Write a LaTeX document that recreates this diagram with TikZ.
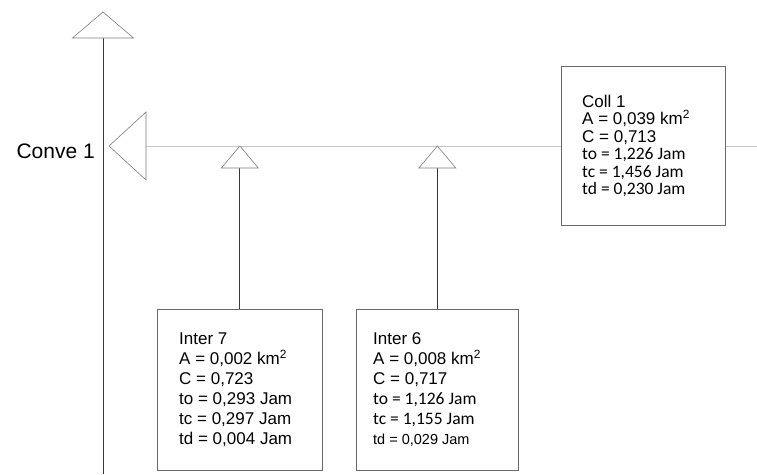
\documentclass[tikz,border=0pt]{standalone}
\usepackage{fontspec}
\setmainfont{Liberation Sans}
\newfontfamily\calfont{Carlito}
\usetikzlibrary{positioning}

\definecolor{linegray}{RGB}{55, 55, 55}
\definecolor{channelgray}{RGB}{200, 200, 200}
\definecolor{boxgray}{RGB}{105, 105, 105}
\definecolor{trigray}{RGB}{125, 125, 125}

\begin{document}
\begin{tikzpicture}[x=1pt, y=-1pt,
  catchbox/.style={draw=boxgray, fill=white, line width=0.7pt, anchor=north west, minimum width=165pt, minimum height=161pt, inner sep=0pt},
  boxtext/.style={anchor=west, align=left, inner sep=0pt, font=\fontsize{17}{20}\selectfont},
  tri/.style={draw=trigray, fill=white, line width=0.6pt},
  link/.style={draw=linegray, line width=0.8pt}
]
  \useasboundingbox (0,0) rectangle (757,474);

  % channel and main drain
  \coordinate (chanstart) at (109,146);
  \coordinate (chanend) at (757,146);
  \coordinate (topbase) at (103,38);
  \coordinate (mainend) at (103,474);
  \draw[draw=channelgray, line width=0.8pt] (chanstart) -- (chanend);
  \draw[link] (topbase) -- (mainend);

  % outlet triangles
  \draw[tri] (topbase) ++(-30.5,0) -- ++(30.5,-26) -- ++(30.5,26) -- cycle;
  \draw[tri] (chanstart) -- ++(37,-34) -- ++(0,68) -- cycle;

  \node[anchor=base east, inner sep=0pt, font=\fontsize{21}{24}\selectfont] (conve) at (95,158) {Conve 1};

  % sub-catchments
  \node[catchbox] (inter7) at (157,309) {};
  \node[boxtext, right=22pt of inter7.west] (inter7txt) {Inter 7\\
    A = 0,002 km\textsuperscript{2}\\
    C = 0,723\\
    to = 0,293 Jam\\
    tc = 0,297 Jam\\
    td = 0,004 Jam};

  \node[catchbox, minimum width=162pt] (inter6) at (356,309) {};
  \node[boxtext, right=17pt of inter6.west] (inter6txt) {Inter 6\\
    A = 0,008 km\textsuperscript{2}\\
    C = 0,717\\
    {\calfont\fontsize{17.5}{20}\selectfont to = 1,126 Jam}\\
    {\calfont\fontsize{17.5}{20}\selectfont tc = 1,155 Jam}\\
    {\fontsize{14.5}{20}\selectfont td = 0,029 Jam}};

  \node[catchbox, minimum width=164pt, minimum height=159pt] (coll1) at (561,66) {};
  \node[boxtext, right=21pt of coll1.west, font=\fontsize{17}{17.5}\selectfont] (coll1txt) {Coll 1\\
    A = 0,039 km\textsuperscript{2}\\
    C = 0,713\\
    {\calfont\fontsize{17.5}{17.5}\selectfont to = 1,226 Jam}\\
    {\calfont\fontsize{17.5}{17.5}\selectfont tc = 1,456 Jam}\\
    {\calfont\fontsize{17.5}{17.5}\selectfont td = 0,230 Jam}};

  \coordinate (tri7) at (inter7.north |- 0,168);
  \coordinate (tri6) at (inter6.north |- 0,168);
  \draw[link] (inter7.north) -- (tri7);
  \draw[link] (inter6.north) -- (tri6);
  \draw[tri] (tri7) ++(-18.5,0) -- ++(18.5,-22) -- ++(18.5,22) -- cycle;
  \draw[tri] (tri6) ++(-18.5,0) -- ++(18.5,-22) -- ++(18.5,22) -- cycle;
\end{tikzpicture}
\end{document}
